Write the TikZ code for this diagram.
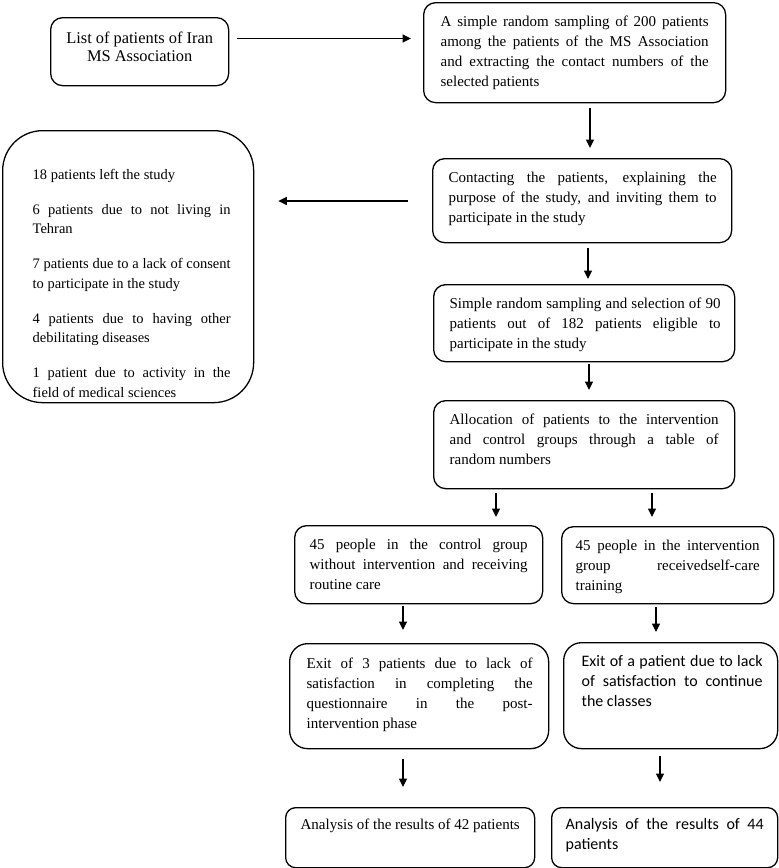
\documentclass[tikz,border=0pt]{standalone}
\usepackage{fontspec}
\setmainfont{Liberation Serif}
\newfontfamily\carlito{Carlito}
\usetikzlibrary{arrows.meta}
\newcommand\bx[7][\fontsize{15}{20}\selectfont]{\parbox[c][#3][t]{#2}{#1\hyphenpenalty=10000\relax\leftskip=#4\relax\rightskip=#5\relax\vspace*{#6}\strut #7}}
\tikzset{
  box/.style={draw=black, line width=1.3pt, rounded corners=12pt, inner sep=0pt, anchor=north west},
  arr/.style={line width=1.4pt, -{Triangle[length=8.5pt,width=8pt]}}
}
\begin{document}
\begin{tikzpicture}[x=1pt,y=-1pt]
\useasboundingbox (0,0) rectangle (779,868);
% boxes
\node[box] (b1) at (50,17) {\parbox[c][68pt][t]{178pt}{\fontsize{16.4}{18.3}\selectfont\centering\vspace*{12.9pt}\strut List of patients of Iran\\MS Association}};
\node[box] (b2) at (423,2) {\bx{302pt}{100pt}{17pt}{17pt}{10pt}{A simple random sampling of 200 patients\linebreak among the patients of the MS Association\linebreak and extracting the contact numbers of the\linebreak selected patients}};
\node[box] (b3) at (432,158) {\bx{299pt}{84pt}{16pt}{15pt}{10pt}{Contacting the patients, explaining the\linebreak purpose of the study, and inviting them to\linebreak participate in the study}};
\node[box] (b4) at (433,284) {\bx{301pt}{77pt}{16pt}{14pt}{10pt}{Simple random sampling and selection of 90\linebreak patients out of 182 patients eligible to\linebreak participate in the study}};
\node[box] (b5) at (433,400) {\bx{301pt}{88pt}{16pt}{16pt}{10pt}{Allocation of patients to the intervention\linebreak and control groups through a table of\linebreak random numbers}};
\node[box] (bc) at (294,525) {\bx{248pt}{78pt}{15pt}{15pt}{10pt}{45 people in the control group\linebreak without intervention and receiving\linebreak routine care}};
\node[box] (bi) at (561,526) {\bx{212pt}{77pt}{14pt}{14pt}{10pt}{45 people in the intervention\linebreak group receivedself-care\linebreak training}};
\node[box, rounded corners=18pt] (ec) at (289,643) {\bx{259pt}{105pt}{17pt}{16pt}{11pt}{Exit of 3 patients due to lack of\linebreak satisfaction in completing the\linebreak questionnaire in the post-\linebreak intervention phase}};
\node[box, rounded corners=18pt] (ei) at (563,642) {\bx[\carlito\fontsize{16}{20}\selectfont]{214pt}{106pt}{18pt}{15pt}{10pt}{Exit of a patient due to lack\linebreak of satisfaction to continue\linebreak the classes}};
\node[box, rounded corners=10pt] (ac) at (285,807) {\bx{249pt}{60pt}{15pt}{5pt}{8pt}{Analysis of the results of 42 patients}};
\node[box, rounded corners=10pt] (ai) at (551,807) {\bx[\carlito\fontsize{16}{20}\selectfont]{226pt}{60pt}{14pt}{14pt}{8pt}{Analysis of the results of 44\linebreak patients}};
\node[box, rounded corners=40pt] (lb) at (2,130) {\bx[\fontsize{14.5}{19.5}\selectfont\parskip=15.5pt\relax]{251pt}{272pt}{30pt}{23pt}{19.35pt}{18 patients left the study\par
6 patients due to not living in\linebreak Tehran\par
7 patients due to a lack of consent\linebreak to participate in the study\par
4 patients due to having other\linebreak debilitating diseases\par
1 patient due to activity in the\linebreak field of medical sciences}};
% connectors
\coordinate (p1) at ([xshift=8pt,yshift=-21.5pt]b1.north east);
\draw[arr, shorten >=12pt] (p1) -- (p1 -| b2.west);
\coordinate (p2) at ([xshift=167pt]b2.south west);
\draw[arr, shorten <=5pt, shorten >=10pt] (p2) -- (p2 |- b3.north);
\coordinate (pl) at ([yshift=-43pt]b3.north west);
\draw[arr, shorten <=24pt, shorten >=24pt] (pl) -- (pl -| lb.east);
\coordinate (p3) at ([xshift=156pt]b3.south west);
\draw[arr, shorten <=5pt, shorten >=5pt] (p3) -- (p3 |- b4.north);
\coordinate (p4) at ([xshift=156pt]b4.south west);
\draw[arr, shorten <=2pt, shorten >=10pt] (p4) -- (p4 |- b5.north);
\coordinate (p5l) at ([xshift=63pt]b5.south west);
\draw[arr, shorten <=4pt, shorten >=8pt] (p5l) -- (p5l |- bc.north);
\coordinate (p5r) at ([xshift=219pt]b5.south west);
\draw[arr, shorten <=4pt, shorten >=9pt] (p5r) -- (p5r |- bi.north);
\coordinate (p6l) at ([xshift=109pt]bc.south west);
\draw[arr, shorten <=2pt, shorten >=13pt] (p6l) -- (p6l |- ec.north);
\coordinate (p6r) at ([xshift=95pt]bi.south west);
\draw[arr, shorten <=3pt, shorten >=10pt] (p6r) -- (p6r |- ei.north);
\coordinate (p7l) at ([xshift=114pt]ec.south west);
\draw[arr, shorten <=10pt, shorten >=20pt] (p7l) -- (p7l |- ac.north);
\coordinate (p7r) at ([xshift=97pt]ei.south west);
\draw[arr, shorten <=7pt, shorten >=25pt] (p7r) -- (p7r |- ai.north);
\end{tikzpicture}
\end{document}
